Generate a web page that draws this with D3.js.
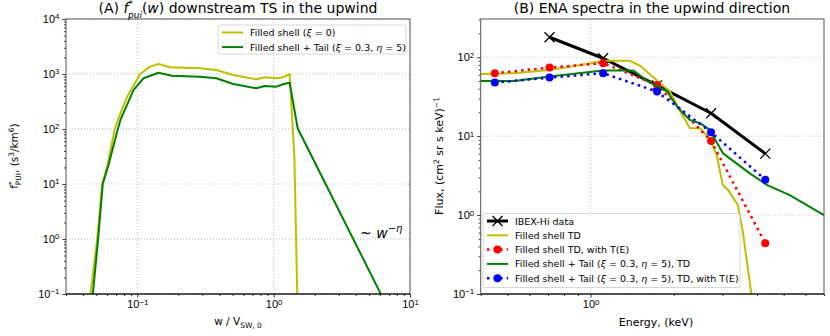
<!DOCTYPE html>
<html>
<head>
<meta charset="utf-8">
<script src="https://cdn.jsdelivr.net/npm/d3@7"></script>
<style>
body { margin: 0; background: #fff; }
svg { font-family: "DejaVu Sans", sans-serif; }
</style>
</head>
<body>
<svg width="830" height="336"></svg>
<script>
// ---- panel A data: f*_pui(w) ----
var wShell = [0.0454, 0.0508, 0.0553, 0.0604, 0.0684, 0.072, 0.0843, 0.105, 0.124, 0.143, 0.174, 0.288, 0.38, 0.505, 0.748, 0.86, 1.046, 1.17, 1.31, 1.42, 1.49];
var fShell = [0.1, 1, 10, 22, 100, 146, 386, 1000, 1360, 1520, 1323, 1270, 1180, 960, 800, 870, 835, 870, 1000, 30, 0.1];
var wTail = [0.0472, 0.0516, 0.0558, 0.0614, 0.072, 0.0752, 0.094, 0.111, 0.143, 0.179, 0.288, 0.38, 0.505, 0.748, 0.86, 1.046, 1.17, 1.31, 1.50, 6.11];
var fTail = [0.1, 1, 10, 22, 100, 146, 513, 835, 1055, 930, 890, 835, 658, 549, 605, 588, 650, 695, 103, 0.1];

// ---- panel B data: ENA spectra ----
var eIbex = [0.71, 1.11, 1.74, 2.73, 4.29];
var fluxIbex = [179, 97, 44, 19.5, 6.0];
var eTE = [0.45, 0.71, 1.11, 1.74, 2.73, 4.29];
var fluxShellTE = [62.7, 73.9, 84, 44.6, 8.7, 0.44];
var fluxTailTE = [47.7, 55.2, 62.7, 36.7, 11.2, 2.8];
var eShellTD = [0.40, 0.53, 0.71, 0.85, 1.0, 1.11, 1.39, 1.51, 1.76, 1.94, 2.08, 2.29, 2.49, 2.70, 2.86, 3.01, 3.14, 3.41, 3.55, 3.82];
var fluxShellTD = [61.5, 62.7, 69, 76, 84, 90, 90, 78, 49, 36.7, 22.6, 12.6, 12.6, 9.4, 5.8, 2.4, 2.1, 1.35, 0.65, 0.1];
var eTailTD = [0.40, 0.53, 0.71, 1.11, 1.43, 1.62, 1.89, 2.07, 2.29, 2.49, 2.70, 3.01, 3.76, 4.36, 5.24, 7.0];
var fluxTailTD = [50, 50, 57, 68, 68, 49, 37, 23, 16, 14.6, 12, 6.1, 3.4, 2.4, 1.8, 1.0];

var yTicksA = [0.1, 1, 10, 100, 1000, 10000];
var xTicksA = [0.1, 1, 10];
var yTicksB = [0.1, 1, 10, 100];
var xTicksB = [1];

var svg = d3.select("svg");
var cYellow = "#bfbf00", cGreen = "#008000", cRed = "#ff0000", cBlue = "#0000ff";

// minor ticks for a log range
var minors = function(lo, hi) {
    var out = [];
    for (var e = Math.floor(Math.log10(lo)); e <= Math.ceil(Math.log10(hi)); e++) {
        for (var m = 2; m <= 9; m++) {
            var v = m * Math.pow(10, e);
            if (v >= lo * 0.999 && v <= hi * 1.001) out.push(v);
        }
    }
    return out;
}

var supLabel = function(sel) {
    sel.each(function(v) {
        var t = d3.select(this);
        var ex = Math.round(Math.log10(v));
        t.text("10");
        t.append("tspan").attr("dy", "-0.45em").attr("font-size", "0.72em")
            .text(ex < 0 ? "\u2212" + (-ex) : ex);
    });
}

var drawPanel = function(o) {
    var g = svg.append("g");
    var x = d3.scaleLog().domain(o.xdom).range([o.left, o.right]);
    var y = d3.scaleLog().domain(o.ydom).range([o.bottom, o.top]);

    // grid
    var grid = g.append("g").attr("stroke", "#b0b0b0").attr("stroke-width", 0.8)
        .attr("stroke-dasharray", "1,2");
    o.xgrid.forEach(function(v) {
        grid.append("line").attr("x1", x(v)).attr("x2", x(v)).attr("y1", o.top).attr("y2", o.bottom);
    });
    o.ygrid.forEach(function(v) {
        grid.append("line").attr("x1", o.left).attr("x2", o.right).attr("y1", y(v)).attr("y2", y(v));
    });

    // axes
    var xa = g.append("g").attr("transform", "translate(0," + o.bottom + ")")
        .call(d3.axisBottom(x).tickValues(o.xticks).tickSize(3.5).tickPadding(3));
    g.append("g").attr("transform", "translate(0," + o.bottom + ")")
        .call(d3.axisBottom(x).tickValues(minors(o.xdom[0], o.xdom[1])).tickSize(2).tickFormat(""));
    var ya = g.append("g").attr("transform", "translate(" + o.left + ",0)")
        .call(d3.axisLeft(y).tickValues(o.yticks).tickSize(3.5).tickPadding(3));
    g.append("g").attr("transform", "translate(" + o.left + ",0)")
        .call(d3.axisLeft(y).tickValues(minors(o.ydom[0], o.ydom[1])).tickSize(2).tickFormat(""));
    g.selectAll(".domain").remove();
    g.selectAll(".tick line").attr("stroke", "#000").attr("stroke-width", 0.8);
    xa.selectAll("text").attr("font-size", 11).attr("fill", "#000").call(supLabel);
    ya.selectAll("text").attr("font-size", 11).attr("fill", "#000").call(supLabel);

    // clip
    var cid = "clip" + o.id;
    svg.append("clipPath").attr("id", cid).append("rect")
        .attr("x", o.left).attr("y", o.top).attr("width", o.right - o.left).attr("height", o.bottom - o.top);
    var plot = g.append("g").attr("clip-path", "url(#" + cid + ")");

    // spines
    g.append("rect").attr("x", o.left).attr("y", o.top).attr("width", o.right - o.left)
        .attr("height", o.bottom - o.top).attr("fill", "none").attr("stroke", "#555").attr("stroke-width", 1);
    g.append("line").attr("x1", o.left).attr("x2", o.right).attr("y1", o.bottom).attr("y2", o.bottom)
        .attr("stroke", "#000").attr("stroke-width", 1.2);

    return {g: g, plot: plot, x: x, y: y};
}

var addLine = function(p, xs, ys, style) {
    var pts = xs.map(function(v, i) { return [v, ys[i]]; });
    var line = d3.line().x(function(d) { return p.x(d[0]); }).y(function(d) { return p.y(d[1]); });
    var path = p.plot.append("path").datum(pts).attr("d", line).attr("fill", "none")
        .attr("stroke", style.color).attr("stroke-width", style.width)
        .attr("stroke-linejoin", "round");
    if (style.dash) path.attr("stroke-dasharray", style.dash).attr("stroke-linecap", "butt");
    if (style.marker == "o") {
        p.plot.selectAll(null).data(pts).enter().append("circle")
            .attr("cx", function(d) { return p.x(d[0]); }).attr("cy", function(d) { return p.y(d[1]); })
            .attr("r", 4).attr("fill", style.color);
    }
    if (style.marker == "x") {
        p.plot.selectAll(null).data(pts).enter().append("path")
            .attr("transform", function(d) { return "translate(" + p.x(d[0]) + "," + p.y(d[1]) + ")"; })
            .attr("d", "M-5,-5L5,5M-5,5L5,-5").attr("stroke", style.color).attr("stroke-width", 1.3);
    }
}

// ---- panel A ----
var pA = drawPanel({id: "A", left: 66, right: 410, top: 19, bottom: 294,
    xdom: [0.03, 10], ydom: [0.1, 10000], xticks: xTicksA, yticks: yTicksA,
    xgrid: xTicksA, ygrid: yTicksA});
addLine(pA, wShell, fShell, {color: cYellow, width: 2});
addLine(pA, wTail, fTail, {color: cGreen, width: 2});

// ---- panel B ----
var pB = drawPanel({id: "B", left: 480.7, right: 824, top: 19, bottom: 294,
    xdom: [0.4, 7], ydom: [0.1, 305], xticks: xTicksB, yticks: yTicksB,
    xgrid: xTicksB, ygrid: yTicksB});
addLine(pB, eIbex, fluxIbex, {color: "#000", width: 3, marker: "x"});
addLine(pB, eShellTD, fluxShellTD, {color: cYellow, width: 2});
addLine(pB, eTE, fluxShellTE, {color: cRed, width: 2.5, dash: "2.5,4.1", marker: "o"});
addLine(pB, eTailTD, fluxTailTD, {color: cGreen, width: 2});
addLine(pB, eTE, fluxTailTE, {color: cBlue, width: 2.5, dash: "2.5,4.1", marker: "o"});

// ---- titles & labels ----
var tA = svg.append("text").attr("x", 238).attr("y", 13).attr("text-anchor", "middle").attr("font-size", 14);
tA.append("tspan").text("(A) ");
tA.append("tspan").attr("font-style", "italic").text("f");
tA.append("tspan").attr("font-size", 9).attr("dy", -6).text("*");
tA.append("tspan").attr("font-size", 9).attr("font-style", "italic").attr("dx", -5).attr("dy", 11).text("pui");
tA.append("tspan").attr("dy", -5).text("(");
tA.append("tspan").attr("font-style", "italic").text("w");
tA.append("tspan").text(") downstream TS in the upwind");

svg.append("text").attr("x", 652).attr("y", 13).attr("text-anchor", "middle").attr("font-size", 14)
    .text("(B) ENA spectra in the upwind direction");

var xlA = svg.append("text").attr("x", 238).attr("y", 325).attr("text-anchor", "middle").attr("font-size", 10.5);
xlA.append("tspan").text("w / V");
xlA.append("tspan").attr("font-size", 7.5).attr("dy", 3).text("SW, 0");

svg.append("text").attr("x", 656).attr("y", 326).attr("text-anchor", "middle").attr("font-size", 11)
    .text("Energy, (keV)");

var ylA = svg.append("text").attr("transform", "translate(18,156) rotate(-90)").attr("text-anchor", "middle").attr("font-size", 10.5);
ylA.append("tspan").text("f");
ylA.append("tspan").attr("font-size", 7.5).attr("dy", -4).text("*");
ylA.append("tspan").attr("font-size", 7.5).attr("dx", -4).attr("dy", 7).text("PUI");
ylA.append("tspan").attr("dy", -3).text(", (s");
ylA.append("tspan").attr("font-size", 7.5).attr("dy", -4).text("3");
ylA.append("tspan").attr("dy", 4).text("/km");
ylA.append("tspan").attr("font-size", 7.5).attr("dy", -4).text("6");
ylA.append("tspan").attr("dy", 4).text(")");

var ylB = svg.append("text").attr("transform", "translate(443,156) rotate(-90)").attr("text-anchor", "middle").attr("font-size", 11);
ylB.append("tspan").text("Flux, (cm");
ylB.append("tspan").attr("font-size", 7.5).attr("dy", -4).text("2");
ylB.append("tspan").attr("dy", 4).text(" sr s keV)");
ylB.append("tspan").attr("font-size", 7.5).attr("dy", -4).text("\u22121");

// annotation
var ann = svg.append("text").attr("x", 360).attr("y", 238).attr("font-size", 14);
ann.append("tspan").text("~ ");
ann.append("tspan").attr("font-style", "italic").text("w");
ann.append("tspan").attr("font-size", 10).attr("dy", -6).attr("font-style", "italic").text("\u2212\u03b7");

// ---- legends ----
var legend = function(x0, y0, w, h, items) {
    var lg = svg.append("g");
    lg.append("rect").attr("x", x0).attr("y", y0).attr("width", w).attr("height", h).attr("rx", 2)
        .attr("fill", "#fff").attr("fill-opacity", 0.85).attr("stroke", "#ccc").attr("stroke-width", 0.8);
    items.forEach(function(it, i) {
        var yy = y0 + 7.5 + i * it.step;
        var ln = lg.append("line").attr("x1", x0 + 4).attr("x2", x0 + 25).attr("y1", yy).attr("y2", yy)
            .attr("stroke", it.color).attr("stroke-width", it.width);
        if (it.dash) ln.attr("stroke-dasharray", it.dash);
        if (it.marker == "o") lg.append("circle").attr("cx", x0 + 14.5).attr("cy", yy).attr("r", 4).attr("fill", it.color);
        if (it.marker == "x") lg.append("path").attr("transform", "translate(" + (x0 + 14.5) + "," + yy + ")")
            .attr("d", "M-5,-5L5,5M-5,5L5,-5").attr("stroke", it.color).attr("stroke-width", 1.3);
        var t = lg.append("text").attr("x", x0 + 32).attr("y", yy + 3.5).attr("font-size", 9.5);
        it.parts.forEach(function(pt) {
            t.append("tspan").attr("font-style", pt[1] ? "italic" : "normal").text(pt[0]);
        });
    });
}

legend(218, 25, 188, 29, [
    {color: cYellow, width: 2, step: 14.6, parts: [["Filled shell ("], ["\u03be", 1], [" = 0)"]]},
    {color: cGreen, width: 2, step: 14.6, parts: [["Filled shell + Tail ("], ["\u03be", 1], [" = 0.3, "], ["\u03b7", 1], [" = 5)"]]}
]);

legend(483, 213.5, 257, 74, [
    {color: "#000", width: 3, marker: "x", step: 14.3, parts: [["IBEX-Hi data"]]},
    {color: cYellow, width: 2, step: 14.3, parts: [["Filled shell TD"]]},
    {color: cRed, width: 2.5, dash: "2.5,4.1", marker: "o", step: 14.3, parts: [["Filled shell TD, with T(E)"]]},
    {color: cGreen, width: 2, step: 14.3, parts: [["Filled shell + Tail ("], ["\u03be", 1], [" = 0.3, "], ["\u03b7", 1], [" = 5), TD"]]},
    {color: cBlue, width: 2.5, dash: "2.5,4.1", marker: "o", step: 14.3, parts: [["Filled shell + Tail ("], ["\u03be", 1], [" = 0.3, "], ["\u03b7", 1], [" = 5), TD, with T(E)"]]}
]);
</script>
</body>
</html>
